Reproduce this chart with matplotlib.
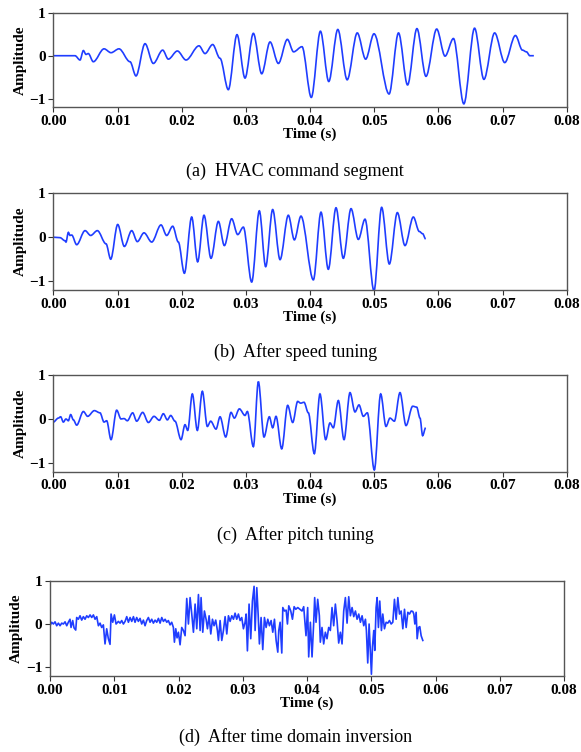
import matplotlib
matplotlib.use("Agg")
import matplotlib.pyplot as plt
from matplotlib.path import Path
from matplotlib.patches import PathPatch

plt.rcParams["font.family"] = ["Liberation Serif", "DejaVu Serif"]

# (a) HVAC command segment (time in s)
a_time = [0.0, 0.00338, 0.00416, 0.00468, 0.00509, 0.00545, 0.00623, 0.0079, 0.00899,
          0.01023, 0.01195, 0.01288, 0.01429, 0.01558, 0.01704, 0.01792, 0.01933,
          0.02068, 0.0227, 0.02364, 0.02483, 0.02597, 0.02727, 0.02862, 0.02987,
          0.03117, 0.03247, 0.03377, 0.03507, 0.03647, 0.03744, 0.03875, 0.0402,
          0.04162, 0.04292, 0.04433, 0.04579, 0.04736, 0.04867, 0.04997, 0.05232,
          0.05379, 0.0552, 0.05666, 0.05807, 0.05974, 0.06104, 0.06235, 0.06397,
          0.06564, 0.0671, 0.06877, 0.07034, 0.07201, 0.0731, 0.07373, 0.07425, 0.07488]
a_amp = [0.0, 0.0, -0.10, 0.12, 0.03, 0.05, -0.14, 0.16, 0.07,
         0.16, -0.14, -0.47, 0.28, -0.18, 0.13, -0.08, 0.11,
         -0.10, 0.23, 0.05, 0.26, -0.06, -0.79, 0.49, -0.52,
         0.52, -0.42, 0.32, -0.18, 0.38, 0.09, 0.21, -0.97,
         0.57, -0.60, 0.61, -0.56, 0.53, -0.08, 0.51, -0.89,
         0.53, -0.68, 0.63, -0.48, 0.62, -0.01, 0.40, -1.12,
         0.64, -0.55, 0.53, -0.16, 0.47, 0.13, 0.09, 0.0, 0.0]

# (b) after speed tuning
b_time = [0.0, 0.00104, 0.00182, 0.00197, 0.00234, 0.0026, 0.00286, 0.00364, 0.00494,
          0.00582, 0.00686, 0.00821, 0.00894, 0.01003, 0.01107, 0.01221, 0.01309,
          0.01413, 0.01533, 0.01678, 0.01766, 0.0186, 0.01948, 0.02042, 0.02156,
          0.02249, 0.02348, 0.02457, 0.02572, 0.02665, 0.02779, 0.02873, 0.02961,
          0.03091, 0.0321, 0.03309, 0.03418, 0.03533, 0.03662, 0.03756, 0.03859,
          0.04052, 0.04171, 0.04285, 0.04405, 0.04519, 0.04639, 0.04753, 0.04857,
          0.04997, 0.05116, 0.05236, 0.05361, 0.0548, 0.0561, 0.05703, 0.05755, 0.05802]
b_amp = [0.0, -0.01, -0.08, -0.11, 0.11, 0.04, 0.05, -0.17, 0.15,
         0.04, 0.15, -0.15, -0.50, 0.29, -0.21, 0.15, -0.10,
         0.10, -0.11, 0.28, 0.04, 0.25, -0.11, -0.82, 0.46,
         -0.56, 0.50, -0.48, 0.36, -0.19, 0.42, 0.06, 0.23,
         -1.02, 0.60, -0.67, 0.63, -0.51, 0.50, -0.06, 0.48,
         -0.97, 0.57, -0.73, 0.67, -0.48, 0.65, -0.05, 0.41,
         -1.22, 0.68, -0.61, 0.56, -0.19, 0.46, 0.13, 0.08, -0.04]

# (c) after pitch tuning
c_time = [0.0, 0.00078, 0.00114, 0.00156, 0.00197, 0.00234, 0.0027, 0.00312, 0.00364,
          0.00468, 0.00535, 0.00639, 0.00727, 0.0079, 0.00831, 0.00899, 0.00987,
          0.01055, 0.01101, 0.01153, 0.01236, 0.01299, 0.01392, 0.01481, 0.01569,
          0.01652, 0.01714, 0.01777, 0.01829, 0.01896, 0.0199, 0.02052, 0.02094,
          0.02166, 0.02244, 0.02322, 0.024, 0.02452, 0.02535, 0.02598, 0.02686,
          0.02769, 0.02821, 0.02899, 0.02987, 0.03023, 0.03117, 0.03195, 0.03283,
          0.03366, 0.03418, 0.0347, 0.03559, 0.03652, 0.0373, 0.03808, 0.03854,
          0.03906, 0.03974, 0.04067, 0.04155, 0.04244, 0.04311, 0.04363, 0.04441,
          0.0453, 0.04623, 0.04701, 0.04763, 0.04831, 0.04893, 0.05002, 0.05101,
          0.05184, 0.05246, 0.05314, 0.05402, 0.05496, 0.056, 0.05662, 0.05714,
          0.05755, 0.05802]
c_amp = [-0.07, 0.02, 0.05, -0.07, 0.0, -0.04, 0.10, -0.02, -0.14,
         0.17, 0.06, 0.19, 0.14, -0.07, -0.04, -0.47, 0.20,
         0.0, 0.01, -0.04, 0.14, -0.05, 0.15, -0.08, 0.06,
         -0.03, 0.12, -0.02, 0.08, -0.05, -0.47, -0.13, -0.26,
         0.57, -0.26, 0.63, -0.17, -0.05, -0.23, 0.05, -0.41,
         0.15, 0.02, 0.23, 0.08, 0.17, -0.63, 0.85, -0.41,
         0.05, -0.20, 0.06, -0.68, 0.31, -0.08, 0.40, 0.36,
         0.38, 0.14, -0.79, 0.57, -0.47, -0.09, -0.20, 0.42,
         -0.47, 0.60, 0.16, 0.32, 0.06, 0.14, -1.16, 0.57,
         -0.17, 0.02, -0.05, 0.60, -0.15, 0.29, 0.27, 0.02,
         -0.38, -0.20]

# (d) after time domain inversion
d_time = [0.0, 0.00026, 0.00052, 0.00078, 0.00104, 0.0013, 0.00156, 0.00182, 0.00208,
          0.00234, 0.0026, 0.00285, 0.00311, 0.00327, 0.00353, 0.00374, 0.004,
          0.00415, 0.00441, 0.00467, 0.00493, 0.00519, 0.00545, 0.00571, 0.00597,
          0.00623, 0.00649, 0.00675, 0.00701, 0.00727, 0.00753, 0.00779, 0.00804,
          0.0083, 0.00856, 0.00882, 0.00908, 0.00934, 0.0095, 0.00976, 0.01002,
          0.01028, 0.01064, 0.0109, 0.01116, 0.01142, 0.01168, 0.01194, 0.0122,
          0.01246, 0.01272, 0.01298, 0.01323, 0.01349, 0.01375, 0.01401, 0.01427,
          0.01453, 0.01479, 0.01505, 0.01531, 0.01557, 0.01583, 0.01609, 0.01635,
          0.01661, 0.01687, 0.01713, 0.01739, 0.01765, 0.01791, 0.01817, 0.01842,
          0.01868, 0.01894, 0.0192, 0.01936, 0.01957, 0.01977, 0.01998, 0.02024,
          0.0205, 0.02076, 0.02102, 0.02128, 0.02154, 0.0218, 0.02206, 0.02232,
          0.02258, 0.02284, 0.0231, 0.02336, 0.02351, 0.02377, 0.02403, 0.02429,
          0.0245, 0.02476, 0.02502, 0.02528, 0.02553, 0.02579, 0.02605, 0.02621,
          0.02647, 0.02673, 0.02699, 0.02725, 0.02751, 0.02777, 0.02803, 0.02829,
          0.02855, 0.0288, 0.02906, 0.02932, 0.02958, 0.02984, 0.0301, 0.03036,
          0.03052, 0.03072, 0.03098, 0.03124, 0.0315, 0.03176, 0.03192, 0.03218,
          0.03239, 0.03259, 0.03285, 0.03311, 0.03337, 0.03363, 0.03389, 0.03415,
          0.03441, 0.03467, 0.03493, 0.03519, 0.03545, 0.0356, 0.03581, 0.03607,
          0.03623, 0.03649, 0.03675, 0.03695, 0.03716, 0.03747, 0.03773, 0.03799,
          0.03825, 0.03856, 0.03922, 0.03948, 0.03984, 0.0401, 0.04026, 0.04052,
          0.04078, 0.04104, 0.04119, 0.0414, 0.04166, 0.04192, 0.04207, 0.04233,
          0.04259, 0.04285, 0.04311, 0.04337, 0.04363, 0.04389, 0.04415, 0.04441,
          0.04467, 0.04493, 0.04519, 0.04545, 0.04571, 0.04597, 0.04623, 0.04649,
          0.04675, 0.04701, 0.04727, 0.04753, 0.04779, 0.04805, 0.04831, 0.04857,
          0.04883, 0.04909, 0.04924, 0.04945, 0.04966, 0.05002, 0.05018, 0.05039,
          0.05054, 0.05075, 0.05091, 0.05111, 0.05132, 0.05158, 0.05179, 0.05205,
          0.05231, 0.05257, 0.05283, 0.05309, 0.05335, 0.05361, 0.05387, 0.05413,
          0.05439, 0.05465, 0.05491, 0.05517, 0.05543, 0.05569, 0.05595, 0.05621,
          0.05646, 0.05662, 0.05678, 0.05698, 0.05714, 0.05735, 0.05755, 0.05776,
          0.05802]
d_amp = [-0.04, 0.04, 0.0, 0.05, -0.04, 0.02, -0.04, 0.02, 0.0,
         0.05, -0.04, 0.04, 0.11, -0.08, 0.08, -0.09, -0.14,
         0.15, 0.11, 0.19, 0.09, 0.17, 0.11, 0.19, 0.15,
         0.21, 0.15, 0.21, 0.11, 0.17, -0.04, 0.02, -0.08,
         -0.02, -0.46, -0.11, -0.34, -0.47, 0.23, 0.04, 0.21,
         0.0, 0.06, 0.02, 0.08, 0.0, 0.06, 0.17, 0.04,
         0.15, 0.06, 0.17, 0.04, 0.15, 0.06, 0.13, 0.0,
         0.09, -0.04, 0.08, 0.15, 0.04, 0.11, 0.02, 0.09,
         0.04, 0.13, 0.02, 0.15, 0.06, 0.11, 0.04, 0.08,
         -0.02, 0.04, -0.08, -0.42, -0.11, -0.32, -0.19, -0.48,
         -0.08, -0.15, -0.27, 0.59, 0.0, 0.61, 0.23, -0.19,
         0.46, -0.11, 0.68, -0.15, 0.61, -0.19, 0.30, 0.11,
         -0.11, 0.19, -0.23, 0.11, -0.04, 0.09, -0.15, -0.38,
         0.08, -0.38, -0.15, 0.17, -0.23, 0.19, 0.06, 0.19,
         0.11, 0.25, 0.11, 0.23, 0.08, 0.15, -0.11, 0.04,
         0.23, -0.62, 0.46, -0.34, 0.53, 0.87, -0.15, 0.84,
         0.23, -0.46, 0.15, -0.59, 0.15, -0.08, 0.11, -0.04,
         0.08, -0.19, 0.11, -0.38, -0.65, -0.15, 0.04, -0.67,
         0.38, 0.30, 0.32, 0.0, 0.42, 0.30, 0.11, 0.40,
         0.34, 0.38, 0.30, 0.40, -0.27, 0.38, -0.76, 0.04,
         -0.76, 0.04, 0.61, 0.04, 0.57, 0.19, -0.42, -0.08,
         -0.46, -0.19, -0.34, -0.08, -0.15, 0.38, -0.04, 0.46,
         0.08, -0.44, -0.19, -0.46, 0.30, 0.61, 0.02, 0.63,
         0.19, 0.38, 0.17, 0.30, 0.11, 0.23, 0.04, 0.19,
         -0.04, 0.11, -0.15, -0.90, 0.0, -1.16, -0.53, -0.15,
         -0.61, 0.38, 0.61, -0.08, 0.53, -0.15, 0.23, -0.11,
         0.04, 0.02, 0.08, 0.0, 0.04, 0.57, 0.11, 0.61,
         0.23, 0.30, -0.11, 0.34, -0.08, 0.27, 0.23, 0.30,
         0.29, 0.23, 0.0, 0.27, -0.34, -0.08, -0.06, -0.27,
         -0.38]

captions = ["(a)  HVAC command segment", "(b)  After speed tuning",
            "(c)  After pitch tuning", "(d)  After time domain inversion"]
x_ticks = [0.00, 0.01, 0.02, 0.03, 0.04, 0.05, 0.06, 0.07, 0.08]
y_ticks = [-1, 0, 1]

series = [(a_time, a_amp), (b_time, b_amp), (c_time, c_amp), (d_time, d_amp)]
smooth = [True, True, True, False]
# axes boxes in figure fractions: left, bottom, width, height
boxes = [[0.0918, 0.8573, 0.8836, 0.1258],
         [0.0918, 0.6144, 0.8836, 0.1286],
         [0.0918, 0.3727, 0.8836, 0.1286],
         [0.0861, 0.1011, 0.8847, 0.1267]]
caption_y = [0.7726, 0.5319, 0.2886, 0.0199]
line_color = "#1f3dff"


def smooth_path(t, amp):
    # bezier segments through the read extrema, flat tangent at each point
    verts = [(t[0], amp[0])]
    codes = [Path.MOVETO]
    for i in range(len(t) - 1):
        h = (t[i + 1] - t[i]) / 3.0
        verts += [(t[i] + h, amp[i]), (t[i + 1] - h, amp[i + 1]), (t[i + 1], amp[i + 1])]
        codes += [Path.CURVE4] * 3
    return Path(verts, codes)


fig = plt.figure(figsize=(5.81, 7.52), dpi=100)

for (t, amp), sm, box, cap, cy in zip(series, smooth, boxes, captions, caption_y):
    ax = fig.add_axes(box)
    if sm:
        ax.add_patch(PathPatch(smooth_path(t, amp), facecolor="none",
                               edgecolor=line_color, linewidth=1.2))
    else:
        ax.plot(t, amp, color=line_color, linewidth=1.2)
    ax.set_xlim(0, 0.08)
    ax.set_ylim(-1.2, 1.0)
    ax.set_xticks(x_ticks)
    ax.set_xticklabels(["%.2f" % v for v in x_ticks])
    ax.set_yticks(y_ticks)
    ax.set_yticklabels(["\u22121", "0", "1"])
    for lab in ax.get_xticklabels() + ax.get_yticklabels():
        lab.set_fontweight("bold")
        lab.set_fontsize(11)
    ax.tick_params(direction="out", length=3.5, width=0.8, colors="#333333",
                   labelcolor="black", pad=2)
    for sp in ax.spines.values():
        sp.set_color("#555555")
        sp.set_linewidth(1.0)
    ax.set_xlabel("Time (s)", fontsize=11, fontweight="bold", labelpad=0)
    ax.set_ylabel("Amplitude", fontsize=11, fontweight="bold", labelpad=2)
    fig.text(0.508, cy, cap, ha="center", va="center", fontsize=13)

fig.savefig("out.png", dpi=100)
